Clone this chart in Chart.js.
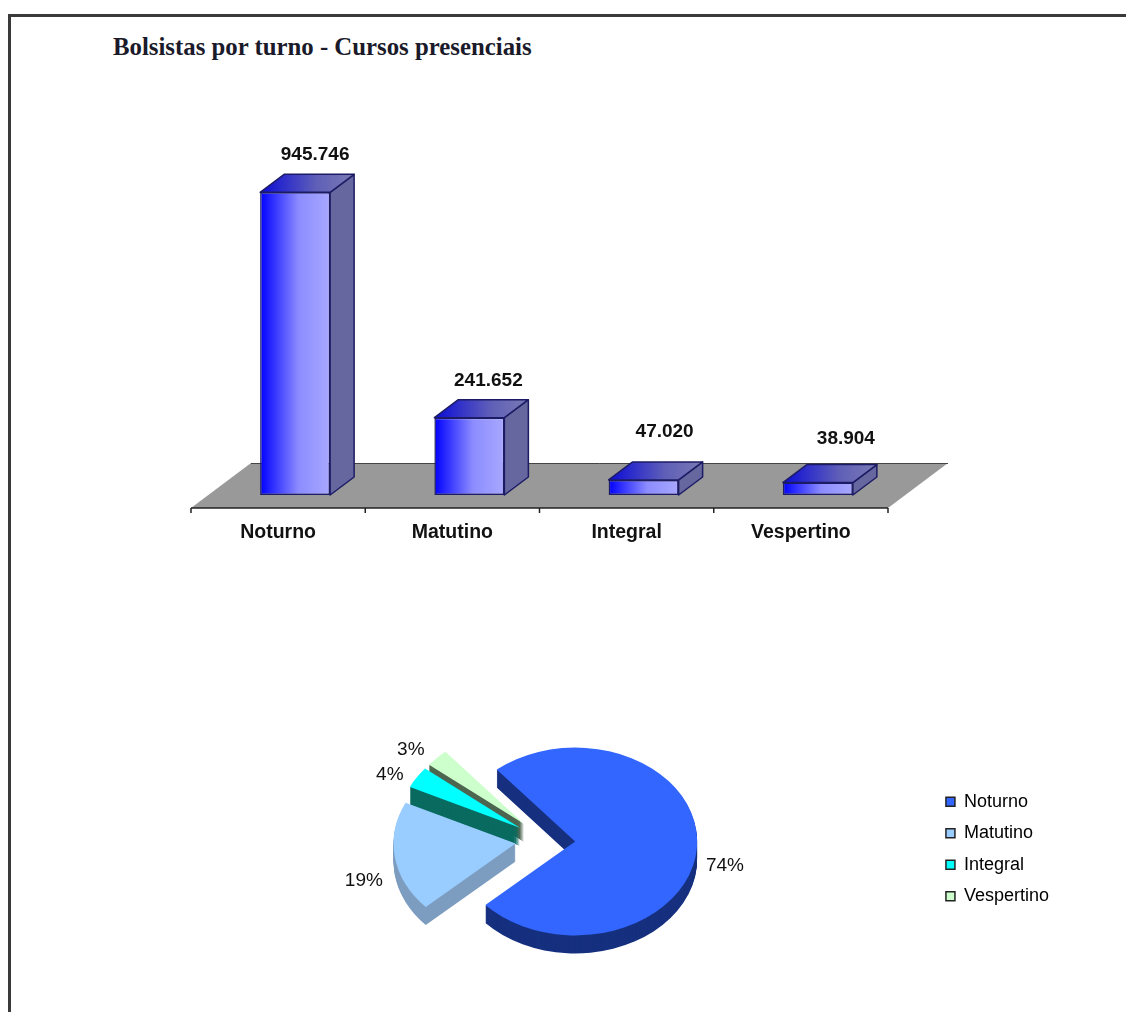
<!DOCTYPE html>
<html lang="pt-BR">
<head>
<meta charset="utf-8">
<title>Bolsistas por turno</title>
<script src="https://cdn.jsdelivr.net/npm/chart.js@4"></script>
<style>
  html, body { margin: 0; background: #fff; }
  #page { position: relative; width: 1126px; height: 1012px; overflow: hidden; }
  #frame { position: absolute; left: 8px; top: 14px; width: 1200px; height: 1100px; border: 3px solid #3a3a3a; }
  h1 { position: absolute; left: 113px; top: 33px; margin: 0; font: bold 24.8px "Liberation Serif", serif; color: #1a1a2a; }
  canvas { position: absolute; left: 0; }
  #barChart { top: 0; }
  #pieChart { top: 600px; }
</style>
</head>
<body>
<div id="page">
  <div id="frame"></div>
  <h1>Bolsistas por turno - Cursos presenciais</h1>
  <canvas id="barChart" width="1126" height="600"></canvas>
  <canvas id="pieChart" width="1126" height="412"></canvas>
</div>
<script>
/* ---------- DATA ---------- */
const categories = ['Noturno', 'Matutino', 'Integral', 'Vespertino'];
const bolsistas = [945746, 241652, 47020, 38904];

const pieColors = ['#3366ff', '#99ccff', '#00ffff', '#ccffcc'];
const pieSides = ['#16307f', '#7d9dc0', '#0a6b60', '#4d6650'];

// label nudges, px
const valueLift = [38, 37, 48, 44];
const valueShift = [20, 19, 21, 28];
const pctPos = [[28, 18], [-31, 24], [-27, -3], [-26, -8]];

const FONT = '"Liberation Sans", Arial, sans-serif';
const formatBR = v => String(v).replace(/\B(?=(\d{3})+$)/g, '.');

/* ---------- BARS ---------- */
const FLOOR_DX = 60, FLOOR_DY = 45;   // floor depth
const LIFT_DX = 17, LIFT_DY = 13;     // bars stand this far in from the front edge
const BAR_DX = 24, BAR_DY = 18;       // bar depth

function poly(ctx, pts, fill, stroke) {
  ctx.beginPath();
  pts.forEach((p, i) => i ? ctx.lineTo(p[0], p[1]) : ctx.moveTo(p[0], p[1]));
  ctx.closePath();
  ctx.fillStyle = fill;
  ctx.fill();
  if (stroke) {
    ctx.strokeStyle = stroke;
    ctx.lineWidth = 1.5;
    ctx.lineJoin = 'round';
    ctx.stroke();
  }
}

const floorPlugin = {
  id: 'floor',
  beforeDatasetsDraw(chart) {
    const { ctx, chartArea: a, scales: { x } } = chart;
    const left = a.left - LIFT_DX, right = a.right - LIFT_DX, front = a.bottom + LIFT_DY;
    const back = front - FLOOR_DY;
    poly(ctx, [[left, front], [right, front], [right + FLOOR_DX, back], [left + FLOOR_DX, back]], '#999999');

    ctx.strokeStyle = '#444';
    ctx.lineWidth = 1;
    ctx.beginPath();
    ctx.moveTo(left + FLOOR_DX, back + 0.5);
    ctx.lineTo(right + FLOOR_DX, back + 0.5);
    ctx.stroke();

    ctx.strokeStyle = '#222';
    ctx.lineWidth = 1.5;
    ctx.beginPath();
    ctx.moveTo(left, front);
    ctx.lineTo(right, front);
    const step = x.width / categories.length;
    for (let i = 0; i <= categories.length; i++) {
      ctx.moveTo(left + i * step, front);
      ctx.lineTo(left + i * step, front + 5);
    }
    ctx.stroke();
  }
};

const bar3dPlugin = {
  id: 'bar3d',
  afterDatasetsDraw(chart) {
    const { ctx } = chart;
    chart.getDatasetMeta(0).data.forEach((bar, i) => {
      const l = bar.x - bar.width / 2, r = bar.x + bar.width / 2, t = bar.y, b = bar.base;
      poly(ctx, [[r, t], [r + BAR_DX, t - BAR_DY], [r + BAR_DX, b - BAR_DY], [r, b]], '#67679f', '#1c1c66');
      const top = ctx.createLinearGradient(l, 0, r + BAR_DX, 0);
      top.addColorStop(0, '#0b0bd8');
      top.addColorStop(0.6, '#5f5fb8');
      top.addColorStop(1, '#7a7ab4');
      poly(ctx, [[l, t], [l + BAR_DX, t - BAR_DY], [r + BAR_DX, t - BAR_DY], [r, t]], top, '#1c1c66');

      ctx.fillStyle = '#111';
      ctx.font = 'bold 19px ' + FONT;
      ctx.textAlign = 'center';
      ctx.textBaseline = 'middle';
      ctx.fillText(formatBR(bolsistas[i]), bar.x + valueShift[i], t - valueLift[i]);
    });
  }
};

function frontGradient(c) {
  const chart = c.chart;
  if (!chart.chartArea || c.dataIndex === undefined) return '#8888ff';
  const w = chart.scales.x.width / categories.length * 0.4017;
  const cx = chart.scales.x.getPixelForTick(c.dataIndex);
  const g = chart.ctx.createLinearGradient(cx - w / 2, 0, cx + w / 2, 0);
  g.addColorStop(0, '#0000ff');
  g.addColorStop(0.55, '#8c8cff');
  g.addColorStop(1, '#a8a8ff');
  return g;
}

new Chart(document.getElementById('barChart'), {
  type: 'bar',
  data: {
    labels: categories,
    datasets: [{
      data: bolsistas,
      backgroundColor: frontGradient,
      borderColor: '#1c1c66',
      borderWidth: 1.5,
      borderSkipped: false,
      categoryPercentage: 0.4017,
      barPercentage: 1
    }]
  },
  options: {
    responsive: false,
    animation: false,
    layout: { padding: { left: 208, right: 221, top: 175, bottom: 45 } },
    plugins: { legend: { display: false }, tooltip: { enabled: false } },
    scales: {
      y: { display: false, min: 0, max: 1000000 },
      x: {
        afterFit: s => { s.height = 60; },
        border: { display: false },
        grid: { display: false },
        ticks: {
          color: '#111',
          font: { family: FONT, size: 19.5, weight: 'bold' },
          labelOffset: -LIFT_DX,
          padding: 18,
          maxRotation: 0
        }
      }
    }
  },
  plugins: [floorPlugin, bar3dPlugin]
});

/* ---------- PIE ---------- */
const SQUASH = 0.77, PIE_DEPTH = 18, EXPLODE = 30;
const DRAW_ORDER = [0, 3, 2, 1];   // back to front
const LEGEND_DROP = 9;
const total = bolsistas.reduce((a, b) => a + b, 0);

const pie3dPlugin = {
  id: 'pie3d',
  afterLayout(chart) {
    chart.legend.top += LEGEND_DROP;
    chart.legend.bottom += LEGEND_DROP;
  },
  beforeDatasetsDraw(chart) {
    const { ctx } = chart;
    const arcs = chart.getDatasetMeta(0).data;
    DRAW_ORDER.forEach(i => {
      const arc = arcs[i];
      const mid = (arc.startAngle + arc.endAngle) / 2;
      const ox = Math.cos(mid) * EXPLODE, oy = Math.sin(mid) * EXPLODE;
      const toSquashed = d => {
        ctx.translate(arc.x, arc.y + d);
        ctx.scale(1, SQUASH);
        ctx.translate(-arc.x + ox, -arc.y + oy);
      };
      // side wall, stacked from the bottom up
      ctx.fillStyle = pieSides[i];
      for (let d = PIE_DEPTH; d > 0; d--) {
        ctx.save();
        toSquashed(d);
        ctx.beginPath();
        ctx.moveTo(arc.x, arc.y);
        ctx.arc(arc.x, arc.y, arc.outerRadius, arc.startAngle, arc.endAngle);
        ctx.closePath();
        ctx.fill();
        ctx.restore();
      }
      ctx.save();
      toSquashed(0);
      arc.draw(ctx);
      ctx.restore();
    });
    return false;
  },
  afterDraw(chart) {
    const { ctx } = chart;
    ctx.fillStyle = '#111';
    ctx.font = '19px ' + FONT;
    ctx.textAlign = 'center';
    ctx.textBaseline = 'middle';
    chart.getDatasetMeta(0).data.forEach((arc, i) => {
      const mid = (arc.startAngle + arc.endAngle) / 2;
      const r = arc.outerRadius + EXPLODE;
      const px = arc.x + Math.cos(mid) * r + pctPos[i][0];
      const py = arc.y + Math.sin(mid) * r * SQUASH + pctPos[i][1];
      ctx.fillText(Math.round(bolsistas[i] / total * 100) + '%', px, py);
    });
  }
};

new Chart(document.getElementById('pieChart'), {
  type: 'pie',
  data: {
    labels: categories,
    datasets: [{ data: bolsistas, backgroundColor: pieColors, borderWidth: 0, radius: 122 }]
  },
  options: {
    responsive: false,
    animation: false,
    rotation: -40,
    layout: { padding: { left: 158, right: 67, top: 140, bottom: 72 } },
    plugins: {
      tooltip: { enabled: false },
      legend: {
        position: 'right',
        labels: {
          boxWidth: 9,
          boxHeight: 9,
          padding: 13.5,
          color: '#222',
          font: { family: FONT, size: 18 },
          generateLabels: chart => categories.map((name, i) => ({
            text: name,
            fillStyle: pieColors[i],
            strokeStyle: '#222',
            lineWidth: 1.5,
            index: i
          }))
        }
      }
    }
  },
  plugins: [pie3dPlugin]
});
</script>
</body>
</html>
